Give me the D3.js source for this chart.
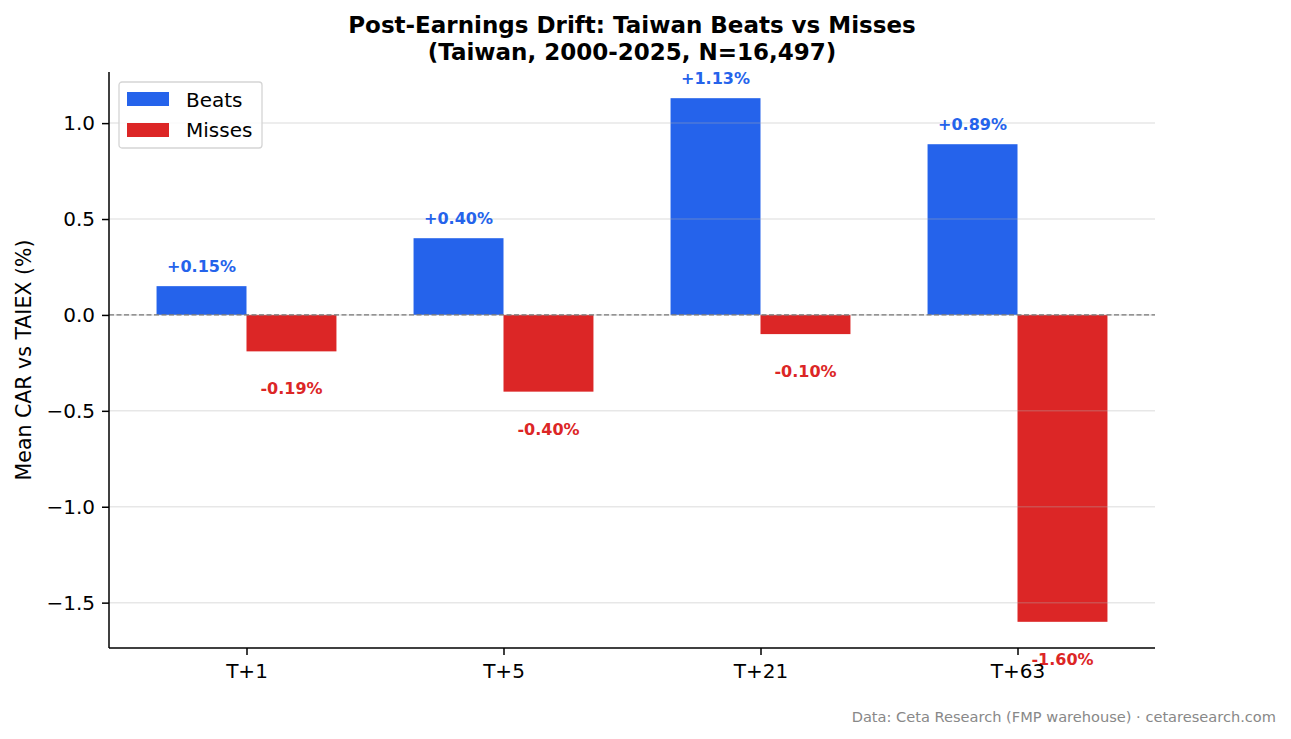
<!DOCTYPE html>
<html>
<head>
<meta charset="utf-8">
<script src="https://cdn.jsdelivr.net/npm/d3@7"></script>
<style>
  body { margin: 0; background: #fff; }
  text { font-family: "DejaVu Sans", sans-serif; }
</style>
</head>
<body>
<div id="chart"></div>
<script>
// data
const horizons = ["T+1", "T+5", "T+21", "T+63"];
const beats = [0.15, 0.40, 1.13, 0.89];
const misses = [-0.19, -0.40, -0.10, -1.60];
const yTicks = [-1.5, -1.0, -0.5, 0.0, 0.5, 1.0];

const W = 1291, H = 739;
const m = { left: 109, right: 1155, top: 72, bottom: 648 };
const blue = "#2563eb", red = "#dc2626";

const svg = d3.select("#chart").append("svg")
    .attr("width", W).attr("height", H);

const barW = 0.35;
const x = d3.scaleLinear().domain([-0.535, 3.535]).range([m.left, m.right]);
const y = d3.scaleLinear().domain([-1.7365, 1.2665]).range([m.bottom, m.top]);

// bars
const g = svg.append("g");
g.selectAll(".beat").data(beats).enter().append("rect")
    .attr("x", (d, i) => x(i - barW))
    .attr("width", (d, i) => x(i) - x(i - barW))
    .attr("y", d => y(Math.max(d, 0)))
    .attr("height", d => Math.abs(y(d) - y(0)))
    .attr("fill", blue);
g.selectAll(".miss").data(misses).enter().append("rect")
    .attr("x", (d, i) => x(i))
    .attr("width", (d, i) => x(i + barW) - x(i))
    .attr("y", d => y(Math.max(d, 0)))
    .attr("height", d => Math.abs(y(d) - y(0)))
    .attr("fill", red);

// grid sits over the bars, like matplotlib
svg.append("g").selectAll("line").data(yTicks).enter().append("line")
    .attr("x1", m.left).attr("x2", m.right)
    .attr("y1", d => y(d)).attr("y2", d => y(d))
    .attr("stroke", "#b0b0b0").attr("stroke-opacity", 0.3).attr("stroke-width", 1.5);

// zero line
svg.append("line")
    .attr("x1", m.left).attr("x2", m.right)
    .attr("y1", y(0)).attr("y2", y(0))
    .attr("stroke", "#777").attr("stroke-width", 1.2)
    .attr("stroke-dasharray", "5,2.5");

// value labels
const fmt = v => (v > 0 ? "+" : "") + v.toFixed(2) + "%";
function labels(data, off, col) {
  svg.append("g").selectAll("text").data(data).enter().append("text")
      .attr("x", (d, i) => x(i + off))
      .attr("y", d => d >= 0 ? y(d) - 14 : y(d) + 43)
      .attr("text-anchor", "middle")
      .attr("font-size", 16).attr("font-weight", "bold")
      .attr("fill", col)
      .text(fmt);
}
labels(beats, -barW / 2, blue);
labels(misses, barW / 2, red);

// axes
const ya = svg.append("g").attr("transform", `translate(${m.left},0)`)
    .call(d3.axisLeft(y).tickValues(yTicks).tickSize(7).tickPadding(7)
      .tickFormat(d => d3.format(".1f")(d).replace("-", "\u2212")));
const xa = svg.append("g").attr("transform", `translate(0,${m.bottom})`)
    .call(d3.axisBottom(x).tickValues([0, 1, 2, 3]).tickSize(7).tickPadding(7)
      .tickFormat(i => horizons[i]));
[ya, xa].forEach(a => {
  a.select(".domain").remove();
  a.selectAll("text").attr("font-size", 20).attr("fill", "#000")
    .attr("font-family", "DejaVu Sans, sans-serif");
  a.selectAll("line").attr("stroke", "#000").attr("stroke-width", 1.5);
});
xa.selectAll("text").attr("dy", "0.8em");
svg.append("line").attr("x1", m.left).attr("x2", m.left)
    .attr("y1", m.top).attr("y2", m.bottom).attr("stroke", "#000").attr("stroke-width", 1.5);
svg.append("line").attr("x1", m.left).attr("x2", m.right)
    .attr("y1", m.bottom).attr("y2", m.bottom).attr("stroke", "#000").attr("stroke-width", 1.5);

// y label
svg.append("text")
    .attr("transform", `translate(31,${(m.top + m.bottom) / 2}) rotate(-90)`)
    .attr("text-anchor", "middle").attr("font-size", 20.5)
    .text("Mean CAR vs TAIEX (%)");

// title
const cx = (m.left + m.right) / 2;
svg.append("text").attr("x", cx).attr("y", 33).attr("text-anchor", "middle")
    .attr("font-size", 23).attr("font-weight", "bold")
    .text("Post-Earnings Drift: Taiwan Beats vs Misses");
svg.append("text").attr("x", cx).attr("y", 60).attr("text-anchor", "middle")
    .attr("font-size", 23).attr("font-weight", "bold")
    .text("(Taiwan, 2000-2025, N=16,497)");

// legend
const lg = svg.append("g").attr("transform", "translate(119,82)");
lg.append("rect").attr("width", 143).attr("height", 66).attr("rx", 3)
    .attr("fill", "#fff").attr("fill-opacity", 0.8)
    .attr("stroke", "#d5d5d5").attr("stroke-width", 1.3);
[["Beats", blue], ["Misses", red]].forEach(([t, c], i) => {
  lg.append("rect").attr("x", 8).attr("y", 10 + i * 31).attr("width", 42).attr("height", 14)
      .attr("fill", c);
  lg.append("text").attr("x", 67).attr("y", 25 + i * 30).attr("font-size", 20).text(t);
});

// footer
svg.append("text").attr("x", 1276).attr("y", 722).attr("text-anchor", "end")
    .attr("font-size", 14.6).attr("fill", "#888")
    .text("Data: Ceta Research (FMP warehouse) \u00b7 cetaresearch.com");
</script>
</body>
</html>
